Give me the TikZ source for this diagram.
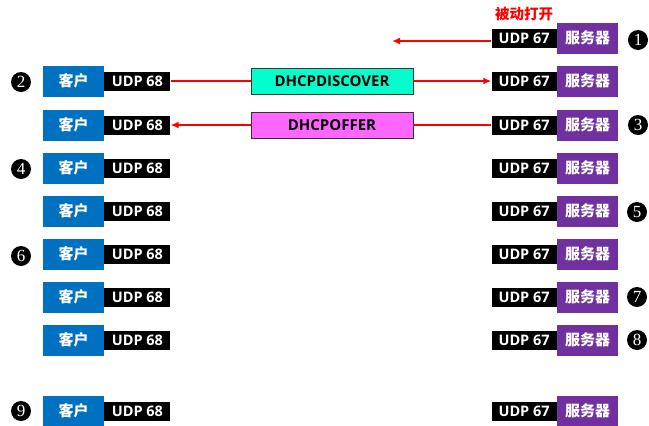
\documentclass[tikz,border=0pt]{standalone}
\usepackage{fontspec}
\setmainfont{Open Sans}
\newfontfamily\cjk{Noto Sans CJK SC}
\newfontfamily\numfont{Liberation Serif}
\usetikzlibrary{positioning,arrows.meta}
\definecolor{clientblue}{HTML}{0070C0}
\definecolor{serverpurple}{HTML}{7030A0}
\definecolor{discovercol}{HTML}{00FFCC}
\definecolor{offercol}{HTML}{FF66FF}
\tikzset{
  client/.style={fill=clientblue,text=white,minimum width=61,minimum height=31,
                 inner sep=0,font=\cjk\bfseries\fontsize{15}{15}\selectfont},
  server/.style={client,fill=serverpurple},
  port/.style={fill=black,text=white,minimum width=66,minimum height=19,
               inner sep=0,font=\bfseries\fontsize{14.5}{14.5}\selectfont},
  msgbox/.style={draw=black!80,line width=0.8,minimum width=162,minimum height=26,
                 inner sep=0,font=\bfseries\fontsize{15}{15}\selectfont},
  msg/.style={red,line width=2.2},
  num/.style={circle,fill=black,text=white,minimum size=20,inner sep=0,
              font=\numfont\fontsize{17}{17}\selectfont},
  >={Latex[length=8,width=7]}
}
\begin{document}
\begin{tikzpicture}[x=1pt,y=-1pt]
  \useasboundingbox (0,0) rectangle (649,426);

  % SERVERS
  \foreach \i/\y in {1/38,2/81,3/125,4/168,5/211,6/254,7/297,8/340,9/411}{
    \node[server] (s\i) at (587.5,\y) {服务器};
    \node[port,minimum width=65,left=0pt of s\i] (p\i) {UDP 67};
  }

  % CLIENTS
  \foreach \i/\y in {2/81,3/125,4/168,5/211,6/254,7/297,8/340,9/411}{
    \node[client] (c\i) at (73.5,\y) {客户};
    \node[port,right=0pt of c\i] (u\i) {UDP 68};
  }

  % MESSAGES
  \node[msgbox,fill=discovercol] (disc)  at (332,81)  {DHCPDISCOVER};
  \node[msgbox,fill=offercol]    (offer) at (332,125) {DHCPOFFER};
  \node[red,font=\cjk\bfseries\fontsize{14.5}{14.5}\selectfont] (passive) at (524,14) {被动打开};
  \coordinate (e1) at (392,41);

  \draw[msg,->] (p1.west |- e1) -- (e1);
  \draw[msg] (u2.east) -- (disc.west);
  \draw[msg,->] (disc.east) -- (p2.west);
  \draw[msg] (p3.west) -- (offer.east);
  \draw[msg,->] (offer.west) -- (u3.east);

  % STEP NUMBERS
  \foreach \n/\x/\y in {1/638/40,2/21/82,3/638/125,4/21/169,5/637/212,
                        6/21/256,7/637/297,8/637/340,9/21/411}{
    \node[num] (n\n) at (\x,\y) {\n};
  }
\end{tikzpicture}
\end{document}
